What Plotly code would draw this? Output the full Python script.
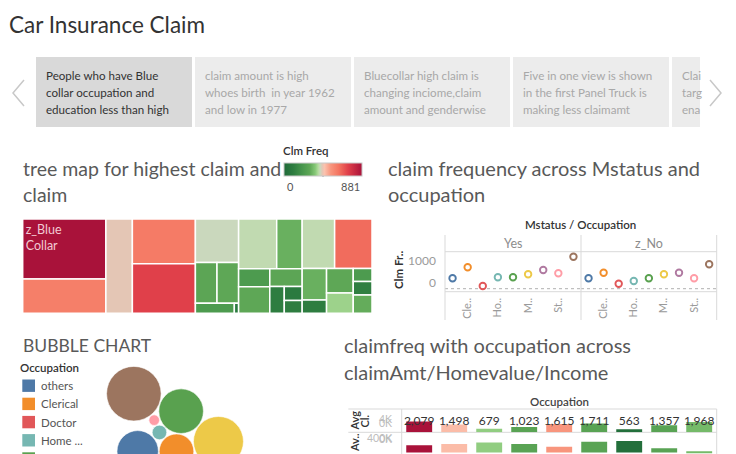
import math
import plotly.graph_objects as go

W, H = 736, 454
FONT = "Lato"

# ---------------- data ----------------
dashboard_title = "Car Insurance Claim"
story_captions = [
    ["People who have Blue", "collar occupation and", "education less than high"],
    ["claim amount is high", "whoes birth  in year 1962", "and low in 1977"],
    ["Bluecollar high claim is", "changing inciome,claim", "amount and genderwise"],
    ["Five in one view is shown", "in the first Panel Truck is", "making less claimamt"],
    ["Clai", "targ", "ena"],
]
active_story = 0

occupations = ["others", "Clerical", "Doctor", "Home Maker", "Lawyer", "Manager",
               "Professional", "Student", "z_Blue Collar"]
occupation_colors = ["#4e79a7", "#f28e2b", "#e15759", "#76b7b2", "#59a14f", "#edc948",
                     "#b07aa1", "#ff9da7", "#9c755f"]

# tree map (size measure + Clm Freq colour)
tm_columns = ["z_Blue Collar", "Clerical", "Professional", "Manager", "Lawyer"]
tm_leaf_column = [0, 0, 1, 2, 2, 2, 2, 2, 2, 2, 3, 3, 3, 3, 3, 3, 3, 3, 4, 4, 4, 4, 4, 4, 4, 4, 4]
tm_leaf_size = [4690, 2690, 2350, 2650, 2940, 1770, 830, 830, 365, 40,
                1780, 1190, 530, 780, 546, 364, 234, 216,
                1512, 1740, 720, 307, 615, 510, 229, 239, 322]
tm_leaf_freq = [881, 590, 432, 600, 722, 410, 282, 291, 229, 88,
                401, 308, 229, 291, 282, 106, 88, 106,
                401, 634, 308, 106, 291, 370, 229, 115, 300]
clm_freq_max = 881

# claim frequency by Mstatus / Occupation
mstatus_values = ["Yes", "z_No"]
clm_freq_yes = [362, 745, 94, 397, 397, 502, 651, 536, 1115]
clm_freq_no = [362, 557, 174, 268, 362, 502, 557, 362, 850]
dot_tick_labels = ["", "Cle..", "", "Ho..", "", "M..", "", "St..", ""]

# bubble chart (packing order, size measure, packing tier: upper ring / lower ring)
bubble_order = ["Clerical", "others", "Home Maker", "Lawyer", "Manager", "Student",
                "z_Blue Collar", "Doctor", "Professional"]
bubble_size = [299, 428, 53, 497, 625, 28, 745, 90, 330]
bubble_tier = ["upper", "upper", "upper", "upper", "upper", "upper", "upper", "lower", "lower"]

# bars: claim amount / home value per occupation
bar_occupations = ["z_Blue Collar", "Clerical", "Home Maker", "Manager", "others",
                   "Lawyer", "Doctor", "Professional", "Student"]
bar_avg_claim = [2079, 1498, 679, 1023, 1615, 1711, 563, 1357, 1968]
bar_avg_home = [160000, 190000, 223000, 190000, 127000, 237000, 256000, 94000, 20000]
bar_clm_freq = [881, 467, 361, 273, 529, 273, 26, 273, 326]

# ---------------- styles ----------------
CLM_SCALE = [
    [0.00, "#1f6a39"], [0.12, "#2e7d40"], [0.25, "#4b994e"], [0.33, "#5ea756"],
    [0.40, "#86c877"], [0.44, "#b4dc9f"], [0.465, "#cad8bd"], [0.49, "#e4c6b5"],
    [0.52, "#fbc2ae"], [0.60, "#f8957d"], [0.70, "#f47561"], [0.82, "#e0404a"],
    [1.00, "#a9123a"],
]
TITLE_C = "#333333"
SHEET_C = "#595959"
LINE_C = "#d9d9d9"
SHEET_SIZE = 20


def fx(v):
    return v / W


def fy(v):
    return 1 - v / H


annotations = []
shapes = []


def txt(x, y, s, size, color, anchor="left", weight=400, angle=0, xref="x", yref="y", yshift=0):
    annotations.append(dict(x=x, y=y, xref=xref, yref=yref, text=s, showarrow=False,
                            xanchor=anchor, yanchor="middle", textangle=angle, yshift=yshift,
                            font=dict(family=FONT, size=size, color=color, weight=weight)))


def line(x0, y0, x1, y1, color=LINE_C, width=1, dash="solid", xref="x", yref="y"):
    shapes.append(dict(type="line", x0=x0, y0=y0, x1=x1, y1=y1, xref=xref, yref=yref,
                       line=dict(color=color, width=width, dash=dash), layer="below"))


fig = go.Figure()

# ---------------- header + story points ----------------
txt(7, 24, dashboard_title, 22.5, TITLE_C)
TAB_X0, TAB_W, TAB_GAP, TAB_Y0, TAB_Y1, TAB_RIGHT = 36, 156, 3, 57, 127, 700
for i, lines_ in enumerate(story_captions):
    x0 = TAB_X0 + i * (TAB_W + TAB_GAP)
    x1 = min(x0 + TAB_W, TAB_RIGHT)
    shapes.append(dict(type="rect", x0=x0, x1=x1, y0=TAB_Y0, y1=TAB_Y1, xref="x", yref="y",
                       fillcolor="#d9d9d9" if i == active_story else "#ececec",
                       line=dict(width=0), layer="below"))
    for j, s in enumerate(lines_):
        txt(x0 + 8, 75 + 17 * j, s, 11.6, "#333333" if i == active_story else "#a8a8a8")
for path in ["M 24 80 L 13 93 L 24 106", "M 710 80 L 721 93 L 710 106"]:
    shapes.append(dict(type="path", path=path, xref="x", yref="y",
                       line=dict(color="#c8c8c8", width=1.5)))

# ---------------- tree map ----------------
txt(21, 168, "tree map for highest claim and", 19.5, SHEET_C)
txt(21, 194, "claim", 19.5, SHEET_C)
ncol = len(tm_columns)
ids = [f"c{i}" for i in range(ncol)] + [f"l{k}" for k in range(len(tm_leaf_size))]
labels = tm_columns + [f"{tm_columns[c]} #{k}" for k, c in enumerate(tm_leaf_column)]
parents = [""] * ncol + [f"c{c}" for c in tm_leaf_column]
values = [0] * ncol + tm_leaf_size
colors = [0] * ncol + tm_leaf_freq
seen = set()
texts = [""] * ncol
for k, c in enumerate(tm_leaf_column):
    texts.append(tm_columns[c].replace(" ", "<br>") if (c == 0 and c not in seen) else "")
    seen.add(c)
TM_X0, TM_X1, TM_Y0, TM_Y1 = 22.7, 372, 219, 313.3
fig.add_trace(go.Treemap(
    ids=ids, labels=labels, parents=parents, values=values, text=texts,
    textinfo="text", textposition="top left", sort=False,
    tiling=dict(packing="squarify", squarifyratio=1, pad=0),
    marker=dict(colors=colors, colorscale=CLM_SCALE, cmin=0, cmax=clm_freq_max,
                line=dict(color="white", width=1.5), pad=dict(t=0, l=0, r=0, b=0),
                showscale=True,
                colorbar=dict(orientation="h", x=fx(284), xanchor="left", y=fy(163), yanchor="top",
                              len=78, lenmode="pixels", thickness=13, thicknessmode="pixels",
                              outlinewidth=1, outlinecolor="#c8c8c8", showticklabels=False,
                              ticks="", xpad=0, ypad=0)),
    pathbar=dict(visible=False), root=dict(color="white"),
    textfont=dict(family=FONT, size=12.5, color="#f2c9d3"),
    domain=dict(x=[fx(TM_X0), fx(TM_X1)], y=[fy(TM_Y1), fy(TM_Y0)]),
    hoverinfo="skip",
))
txt(281, 150, "Clm Freq", 11.5, TITLE_C, weight=600)
txt(285, 186, "0", 11, "#555555")
txt(362, 186, f"{clm_freq_max}", 11, "#555555", anchor="right")
line(323, 171, 323, 176.5, color="#222222", width=1)

# ---------------- dot plot ----------------
txt(386, 168, "claim frequency across Mstatus and", SHEET_SIZE, SHEET_C)
txt(386, 194, "occupation", SHEET_SIZE, SHEET_C)
DP_X0, DP_XM, DP_X1 = 445, 581, 716.7
DP_HEAD, DP_TOP, DP_BOT = 235, 251.7, 291.7
Y_LO, Y_HI = -104.5, 1289
for k, (ms, vals) in enumerate(zip(mstatus_values, [clm_freq_yes, clm_freq_no])):
    xa = f"x{k + 2}"
    ya = f"y{k + 2}"
    fig.add_trace(go.Scatter(
        x=occupations, y=vals, mode="markers", xaxis=xa, yaxis=ya,
        marker=dict(symbol="circle-open", size=6.5, color=occupation_colors, line=dict(width=1.9)),
        hoverinfo="skip", showlegend=False))
    dom = [fx(DP_X0), fx(DP_XM)] if k == 0 else [fx(DP_XM), fx(DP_X1)]
    fig.update_layout(**{
        f"xaxis{k + 2}": dict(domain=dom, anchor=ya, type="category", categoryarray=occupations,
                              range=[-0.5, len(occupations) - 0.5], tickvals=occupations,
                              ticktext=dot_tick_labels, tickangle=-90, ticks="",
                              tickfont=dict(family=FONT, size=11, color="#9a9a9a"),
                              ticklabelstandoff=3, showgrid=False, zeroline=False, showline=False),
        f"yaxis{k + 2}": dict(domain=[fy(DP_BOT), fy(DP_TOP)], anchor=xa, range=[Y_LO, Y_HI],
                              showticklabels=False, showgrid=False, zeroline=False, showline=False),
    })
    shapes.append(dict(type="line", xref=f"{xa} domain", yref=ya, x0=0, x1=1, y0=0, y1=0,
                       line=dict(color="#b0b0b0", width=1, dash="dot"), layer="below"))
    txt(0.5, 243.3, ms, 12.5, "#8c8c8c", anchor="center", xref=f"{xa} domain")
for xv in (DP_X0, DP_XM, DP_X1):
    line(xv, DP_HEAD, xv, 320)
line(DP_X0, DP_TOP, DP_X1, DP_TOP)
line(DP_X0, DP_BOT, DP_X1, DP_BOT)
txt(580, 224.3, "Mstatus / Occupation", 11.5, TITLE_C, anchor="center", weight=600)
txt(398, 270, "Clm Fr..", 11.5, TITLE_C, anchor="center", weight=700, angle=-90)
txt(437.5, 1000, "1000", 12, "#9a9a9a", anchor="right", yref="y2")
txt(437.5, 0, "0", 12, "#9a9a9a", anchor="right", yref="y2", yshift=6)

# ---------------- bubble chart ----------------
txt(21, 345, "BUBBLE CHART", 17.5, SHEET_C)
txt(18, 367, "Occupation", 11.5, TITLE_C, weight=600)
LEG_Y0, LEG_DY = 385.7, 18.2
for i, (occ, col) in enumerate(zip(occupations, occupation_colors)):
    yy = LEG_Y0 + i * LEG_DY
    shapes.append(dict(type="rect", x0=22.3, x1=35, y0=yy - 6.2, y1=yy + 6.2, xref="x", yref="y",
                       fillcolor=col, line=dict(width=0)))
    name = occ if len(occ) <= 8 else occ[:4] + " ..."
    txt(39, yy, name, 11.5, "#555555")


def tangent_spots(a, b, r):
    ax, ay, ar = a
    bx, by, br = b
    da, db = ar + r, br + r
    dx, dy = bx - ax, by - ay
    d = math.hypot(dx, dy)
    if d == 0 or d > da + db or d < abs(da - db):
        return []
    aa = (da * da - db * db + d * d) / (2 * d)
    h = math.sqrt(max(da * da - aa * aa, 0))
    ux, uy = dx / d, dy / d
    px, py = ax + aa * ux, ay + aa * uy
    return [(px - h * uy, py + h * ux), (px + h * uy, py - h * ux)]


def pack(radii, pulls, gap=0.8):
    """Greedy front packing: each bubble goes to the free tangent spot nearest its pull point."""
    placed = []
    for k, (r0, pull) in enumerate(zip(radii, pulls)):
        r = r0 + gap / 2
        if k == 0:
            placed.append((0.0, 0.0, r))
            continue
        if k == 1:
            placed.append((-(placed[0][2] + r), 0.0, r))
            continue
        best = None
        for i in range(len(placed)):
            for j in range(i + 1, len(placed)):
                for cx, cy in tangent_spots(placed[i], placed[j], r):
                    if any(math.hypot(cx - x, cy - y) < r + rr - 1e-6 for x, y, rr in placed):
                        continue
                    dd = math.hypot(cx - pull[0], cy - pull[1])
                    if best is None or dd < best[0]:
                        best = (dd, cx, cy)
        placed.append((best[1], best[2], r))
    return placed


PULL = {"upper": (0, -25), "lower": (0, 40)}
radii = [math.sqrt(v) for v in bubble_size]
packed = pack(radii, [PULL[t] for t in bubble_tier])
minx = min(x - r for x, y, r in packed)
maxx = max(x + r for x, y, r in packed)
miny = min(y - r for x, y, r in packed)
BUB_CX, BUB_TOP = 175, 366
offx = BUB_CX - (minx + maxx) / 2
offy = BUB_TOP - miny
col_of = dict(zip(occupations, occupation_colors))
fig.add_trace(go.Scatter(
    x=[x + offx for x, y, r in packed], y=[y + offy for x, y, r in packed],
    mode="markers", xaxis="x", yaxis="y", cliponaxis=False,
    marker=dict(size=[2 * r for r in radii], sizemode="diameter", sizeref=1,
                color=[col_of[o] for o in bubble_order], line=dict(color="white", width=0.6), opacity=1),
    hoverinfo="skip", showlegend=False))

# ---------------- bar chart ----------------
txt(342, 345, "claimfreq with occupation across", SHEET_SIZE, SHEET_C)
txt(342, 371.7, "claimAmt/Homevalue/Income", SHEET_SIZE, SHEET_C)
BR_X0, BR_X1, BR_HL = 401.7, 716.7, 348.3
BR_TOP, BR_MID = 409, 432.3
row1_top = 4480
row2_top, row2_bot = 448000, -30800
fig.add_trace(go.Bar(x=bar_occupations, y=bar_avg_claim, xaxis="x4", yaxis="y4", width=0.74,
                     marker=dict(color=bar_clm_freq, colorscale=CLM_SCALE, cmin=0, cmax=clm_freq_max,
                                 line=dict(width=0)), hoverinfo="skip", showlegend=False))
fig.add_trace(go.Bar(x=bar_occupations, y=bar_avg_home, xaxis="x5", yaxis="y5", width=0.74,
                     marker=dict(color=bar_clm_freq, colorscale=CLM_SCALE, cmin=0, cmax=clm_freq_max,
                                 line=dict(width=0)), hoverinfo="skip", showlegend=False))
fig.add_trace(go.Scatter(x=bar_occupations, y=[row1_top * 0.43] * len(bar_occupations),
                         text=[f"{v:,}" for v in bar_avg_claim], mode="text", xaxis="x4", yaxis="y4",
                         textfont=dict(family=FONT, size=12, color="#333333"), cliponaxis=False,
                         hoverinfo="skip", showlegend=False))
bar_x = dict(domain=[fx(BR_X0), fx(BR_X1)], type="category", categoryarray=bar_occupations,
             range=[-0.5, len(bar_occupations) - 0.5], showticklabels=False, showgrid=False,
             zeroline=False, showline=False, ticks="")
fig.update_layout(
    xaxis4=dict(anchor="y4", **bar_x),
    yaxis4=dict(anchor="x4", domain=[fy(BR_MID), fy(BR_TOP)], range=[0, row1_top],
                showticklabels=False, showgrid=False, zeroline=False),
    xaxis5=dict(anchor="y5", **bar_x),
    yaxis5=dict(anchor="x5", domain=[0, fy(BR_MID)], range=[row2_bot, row2_top],
                showticklabels=False, showgrid=False, zeroline=False),
)
line(BR_HL, BR_TOP, BR_X1, BR_TOP)
line(BR_HL, BR_MID, BR_X1, BR_MID)
line(BR_X0, BR_TOP, BR_X0, H)
line(BR_X1, BR_TOP, BR_X1, H)
txt(559, 401, "Occupation", 11.5, "#444444", anchor="center", weight=600)
txt(354, 420.5, "Avg", 11, TITLE_C, anchor="center", weight=600, angle=-90)
txt(363.5, 421, "Cl.", 11, TITLE_C, anchor="center", weight=600, angle=-90)
txt(354, 443, "Av..", 11, TITLE_C, anchor="center", weight=600, angle=-90)
TK = "#bdbdbd"
txt(394, 4000, "4K", 10.5, TK, anchor="right", yref="y4", yshift=-7)
txt(394, 0, "0K", 10.5, TK, anchor="right", yref="y4", yshift=9)
txt(394, 400000, "400K", 10.5, TK, anchor="right", yref="y5", yshift=-3.5)
txt(394, 0, "0K", 10.5, TK, anchor="right", yref="y5", yshift=14)

# ---------------- layout ----------------
fig.update_layout(
    width=W, height=H, autosize=False, margin=dict(l=0, r=0, t=0, b=0),
    paper_bgcolor="white", plot_bgcolor="rgba(0,0,0,0)", showlegend=False,
    xaxis=dict(domain=[0, 1], range=[0, W], visible=False, fixedrange=True),
    yaxis=dict(domain=[0, 1], range=[H, 0], visible=False, fixedrange=True),
    annotations=annotations, shapes=shapes,
    font=dict(family=FONT),
)
fig.write_html("out.html", config={"displayModeBar": False},
               post_script="document.body.style.margin='0';")
